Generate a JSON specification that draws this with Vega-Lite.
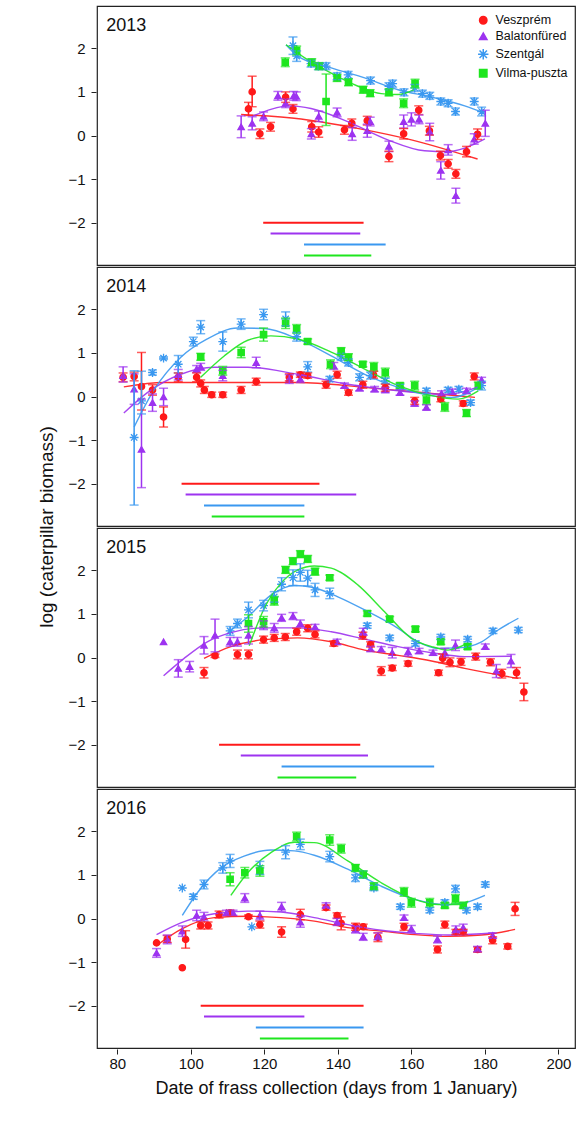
{
  "$schema": "https://vega.github.io/schema/vega-lite/v6.json",
  "config": {
    "font": "Liberation Sans",
    "view": {"stroke": "#222", "strokeWidth": 1.2},
    "axis": {"grid": false, "labelFontSize": 15, "labelColor": "#111", "tickColor": "#222", "domain": false, "tickSize": 5},
    "legend": {"labelFontSize": 12.5, "symbolSize": 55, "rowPadding": 3, "padding": 0, "labelColor": "#111", "labelOffset": 6, "labelLimit": 300}
  },
  "padding": {"left": 37, "top": 5, "right": 2, "bottom": 5},
  "data": {
    "values": [
      {"yr":2013,"k":"l","d":77,"v":2.5,"t":"2013"},
      {"yr":2014,"k":"l","d":77,"v":2.5,"t":"2014"},
      {"yr":2015,"k":"l","d":77,"v":2.5,"t":"2015"},
      {"yr":2016,"k":"l","d":77,"v":2.5,"t":"2016"},

      {"yr":2013,"k":"b","s":"Veszprém","d":119.7,"d2":147,"v":-2},
      {"yr":2013,"k":"b","s":"Balatonfüred","d":121.7,"d2":146.1,"v":-2.25},
      {"yr":2013,"k":"b","s":"Szentgál","d":130.8,"d2":153,"v":-2.5},
      {"yr":2013,"k":"b","s":"Vilma-puszta","d":130.8,"d2":149.1,"v":-2.75},
      {"yr":2014,"k":"b","s":"Veszprém","d":97.5,"d2":135,"v":-2},
      {"yr":2014,"k":"b","s":"Balatonfüred","d":98.6,"d2":145,"v":-2.25},
      {"yr":2014,"k":"b","s":"Szentgál","d":103.6,"d2":130.9,"v":-2.5},
      {"yr":2014,"k":"b","s":"Vilma-puszta","d":105.7,"d2":130.9,"v":-2.75},
      {"yr":2015,"k":"b","s":"Veszprém","d":107.7,"d2":146.1,"v":-2},
      {"yr":2015,"k":"b","s":"Balatonfüred","d":113.6,"d2":148.2,"v":-2.25},
      {"yr":2015,"k":"b","s":"Szentgál","d":124.7,"d2":166.2,"v":-2.5},
      {"yr":2015,"k":"b","s":"Vilma-puszta","d":123.6,"d2":145,"v":-2.75},
      {"yr":2016,"k":"b","s":"Veszprém","d":102.7,"d2":147,"v":-2},
      {"yr":2016,"k":"b","s":"Balatonfüred","d":103.6,"d2":130.9,"v":-2.25},
      {"yr":2016,"k":"b","s":"Szentgál","d":117.7,"d2":147,"v":-2.5},
      {"yr":2016,"k":"b","s":"Vilma-puszta","d":118.8,"d2":142.9,"v":-2.75},

      {"yr":2013,"k":"f","s":"Veszprém","d":113.7,"v":0.48},
      {"yr":2013,"k":"f","s":"Veszprém","d":130,"v":0.38},
      {"yr":2013,"k":"f","s":"Veszprém","d":145,"v":0.17},
      {"yr":2013,"k":"f","s":"Veszprém","d":160,"v":-0.1},
      {"yr":2013,"k":"f","s":"Veszprém","d":178,"v":-0.54},
      {"yr":2013,"k":"f","s":"Balatonfüred","d":116.7,"v":0.44},
      {"yr":2013,"k":"f","s":"Balatonfüred","d":127.3,"v":0.68},
      {"yr":2013,"k":"f","s":"Balatonfüred","d":132.7,"v":0.62},
      {"yr":2013,"k":"f","s":"Balatonfüred","d":142.7,"v":0.32},
      {"yr":2013,"k":"f","s":"Balatonfüred","d":153.6,"v":-0.1},
      {"yr":2013,"k":"f","s":"Balatonfüred","d":163.6,"v":-0.35},
      {"yr":2013,"k":"f","s":"Balatonfüred","d":170,"v":-0.37},
      {"yr":2013,"k":"f","s":"Balatonfüred","d":174.5,"v":-0.29},
      {"yr":2013,"k":"f","s":"Balatonfüred","d":180,"v":-0.08},
      {"yr":2013,"k":"f","s":"Szentgál","d":125.9,"v":2.08},
      {"yr":2013,"k":"f","s":"Szentgál","d":129.1,"v":1.82},
      {"yr":2013,"k":"f","s":"Szentgál","d":138.2,"v":1.55},
      {"yr":2013,"k":"f","s":"Szentgál","d":147.3,"v":1.32},
      {"yr":2013,"k":"f","s":"Szentgál","d":156.4,"v":1.05},
      {"yr":2013,"k":"f","s":"Szentgál","d":165.5,"v":0.88},
      {"yr":2013,"k":"f","s":"Szentgál","d":174.5,"v":0.68},
      {"yr":2013,"k":"f","s":"Szentgál","d":180,"v":0.51},
      {"yr":2013,"k":"f","s":"Vilma-puszta","d":125.9,"v":2.08},
      {"yr":2013,"k":"f","s":"Vilma-puszta","d":131,"v":1.78},
      {"yr":2013,"k":"f","s":"Vilma-puszta","d":138.2,"v":1.43},
      {"yr":2013,"k":"f","s":"Vilma-puszta","d":145.5,"v":1.13},
      {"yr":2013,"k":"f","s":"Vilma-puszta","d":151.8,"v":0.96},
      {"yr":2013,"k":"f","s":"Vilma-puszta","d":156.4,"v":0.94},
      {"yr":2013,"k":"f","s":"Vilma-puszta","d":160.9,"v":1.05},

      {"yr":2014,"k":"f","s":"Veszprém","d":81.8,"v":0.22},
      {"yr":2014,"k":"f","s":"Veszprém","d":92.7,"v":0.32},
      {"yr":2014,"k":"f","s":"Veszprém","d":110.9,"v":0.32},
      {"yr":2014,"k":"f","s":"Veszprém","d":129.1,"v":0.32},
      {"yr":2014,"k":"f","s":"Veszprém","d":147.3,"v":0.21},
      {"yr":2014,"k":"f","s":"Veszprém","d":165.5,"v":0.07},
      {"yr":2014,"k":"f","s":"Veszprém","d":177.3,"v":-0.02},
      {"yr":2014,"k":"f","s":"Balatonfüred","d":81.8,"v":-0.38},
      {"yr":2014,"k":"f","s":"Balatonfüred","d":88.2,"v":0.09},
      {"yr":2014,"k":"f","s":"Balatonfüred","d":97.3,"v":0.51},
      {"yr":2014,"k":"f","s":"Balatonfüred","d":106.4,"v":0.67},
      {"yr":2014,"k":"f","s":"Balatonfüred","d":115.5,"v":0.67},
      {"yr":2014,"k":"f","s":"Balatonfüred","d":129.1,"v":0.51},
      {"yr":2014,"k":"f","s":"Balatonfüred","d":142.7,"v":0.28},
      {"yr":2014,"k":"f","s":"Balatonfüred","d":156.4,"v":0.13},
      {"yr":2014,"k":"f","s":"Balatonfüred","d":170,"v":0.05},
      {"yr":2014,"k":"f","s":"Balatonfüred","d":178.2,"v":0.22},
      {"yr":2014,"k":"f","s":"Szentgál","d":84.6,"v":-0.7},
      {"yr":2014,"k":"f","s":"Szentgál","d":90,"v":0.15},
      {"yr":2014,"k":"f","s":"Szentgál","d":97.3,"v":0.9},
      {"yr":2014,"k":"f","s":"Szentgál","d":104.5,"v":1.32},
      {"yr":2014,"k":"f","s":"Szentgál","d":112.7,"v":1.57},
      {"yr":2014,"k":"f","s":"Szentgál","d":120,"v":1.56},
      {"yr":2014,"k":"f","s":"Szentgál","d":129.1,"v":1.32},
      {"yr":2014,"k":"f","s":"Szentgál","d":138.2,"v":0.93},
      {"yr":2014,"k":"f","s":"Szentgál","d":147.3,"v":0.51},
      {"yr":2014,"k":"f","s":"Szentgál","d":156.4,"v":0.21},
      {"yr":2014,"k":"f","s":"Szentgál","d":165.5,"v":0.02},
      {"yr":2014,"k":"f","s":"Szentgál","d":171,"v":-0.02},
      {"yr":2014,"k":"f","s":"Szentgál","d":178.2,"v":0.21},
      {"yr":2014,"k":"f","s":"Vilma-puszta","d":102.7,"v":0.44},
      {"yr":2014,"k":"f","s":"Vilma-puszta","d":109.1,"v":0.93},
      {"yr":2014,"k":"f","s":"Vilma-puszta","d":115.5,"v":1.29},
      {"yr":2014,"k":"f","s":"Vilma-puszta","d":121.8,"v":1.39},
      {"yr":2014,"k":"f","s":"Vilma-puszta","d":129.1,"v":1.32},
      {"yr":2014,"k":"f","s":"Vilma-puszta","d":138.2,"v":1.02},
      {"yr":2014,"k":"f","s":"Vilma-puszta","d":147.3,"v":0.63},
      {"yr":2014,"k":"f","s":"Vilma-puszta","d":156.4,"v":0.25},
      {"yr":2014,"k":"f","s":"Vilma-puszta","d":165.5,"v":0.02},
      {"yr":2014,"k":"f","s":"Vilma-puszta","d":172.7,"v":-0.06},
      {"yr":2014,"k":"f","s":"Vilma-puszta","d":178.2,"v":0.13},

      {"yr":2015,"k":"f","s":"Veszprém","d":103.6,"v":-0.02},
      {"yr":2015,"k":"f","s":"Veszprém","d":110.9,"v":0.25},
      {"yr":2015,"k":"f","s":"Veszprém","d":120,"v":0.41},
      {"yr":2015,"k":"f","s":"Veszprém","d":129.1,"v":0.45},
      {"yr":2015,"k":"f","s":"Veszprém","d":138.2,"v":0.36},
      {"yr":2015,"k":"f","s":"Veszprém","d":147.3,"v":0.17},
      {"yr":2015,"k":"f","s":"Veszprém","d":156.4,"v":0.05},
      {"yr":2015,"k":"f","s":"Veszprém","d":165.5,"v":-0.08},
      {"yr":2015,"k":"f","s":"Veszprém","d":174.5,"v":-0.25},
      {"yr":2015,"k":"f","s":"Veszprém","d":189.1,"v":-0.48},
      {"yr":2015,"k":"f","s":"Balatonfüred","d":92.6,"v":-0.42},
      {"yr":2015,"k":"f","s":"Balatonfüred","d":98.2,"v":-0.02},
      {"yr":2015,"k":"f","s":"Balatonfüred","d":104.5,"v":0.36},
      {"yr":2015,"k":"f","s":"Balatonfüred","d":110.9,"v":0.57},
      {"yr":2015,"k":"f","s":"Balatonfüred","d":120,"v":0.68},
      {"yr":2015,"k":"f","s":"Balatonfüred","d":129.1,"v":0.68},
      {"yr":2015,"k":"f","s":"Balatonfüred","d":138.2,"v":0.59},
      {"yr":2015,"k":"f","s":"Balatonfüred","d":147.3,"v":0.42},
      {"yr":2015,"k":"f","s":"Balatonfüred","d":156.4,"v":0.25},
      {"yr":2015,"k":"f","s":"Balatonfüred","d":165.5,"v":0.11},
      {"yr":2015,"k":"f","s":"Balatonfüred","d":174.5,"v":0.02},
      {"yr":2015,"k":"f","s":"Balatonfüred","d":187.3,"v":0.03},
      {"yr":2015,"k":"f","s":"Szentgál","d":111,"v":0.63},
      {"yr":2015,"k":"f","s":"Szentgál","d":115.5,"v":0.93},
      {"yr":2015,"k":"f","s":"Szentgál","d":121.8,"v":1.43},
      {"yr":2015,"k":"f","s":"Szentgál","d":128.2,"v":1.65},
      {"yr":2015,"k":"f","s":"Szentgál","d":133.6,"v":1.6},
      {"yr":2015,"k":"f","s":"Szentgál","d":140,"v":1.39},
      {"yr":2015,"k":"f","s":"Szentgál","d":147.3,"v":1.09},
      {"yr":2015,"k":"f","s":"Szentgál","d":156.4,"v":0.67},
      {"yr":2015,"k":"f","s":"Szentgál","d":161.8,"v":0.36},
      {"yr":2015,"k":"f","s":"Szentgál","d":167.3,"v":0.21},
      {"yr":2015,"k":"f","s":"Szentgál","d":172.7,"v":0.22},
      {"yr":2015,"k":"f","s":"Szentgál","d":179.1,"v":0.36},
      {"yr":2015,"k":"f","s":"Szentgál","d":183.6,"v":0.63},
      {"yr":2015,"k":"f","s":"Szentgál","d":189.1,"v":0.9},
      {"yr":2015,"k":"f","s":"Vilma-puszta","d":115.9,"v":0.27},
      {"yr":2015,"k":"f","s":"Vilma-puszta","d":120,"v":1.13},
      {"yr":2015,"k":"f","s":"Vilma-puszta","d":124.5,"v":1.7},
      {"yr":2015,"k":"f","s":"Vilma-puszta","d":129.1,"v":2.01},
      {"yr":2015,"k":"f","s":"Vilma-puszta","d":133.6,"v":2.1},
      {"yr":2015,"k":"f","s":"Vilma-puszta","d":138.2,"v":2.05},
      {"yr":2015,"k":"f","s":"Vilma-puszta","d":145.5,"v":1.66},
      {"yr":2015,"k":"f","s":"Vilma-puszta","d":152.7,"v":1.05},
      {"yr":2015,"k":"f","s":"Vilma-puszta","d":160,"v":0.44},
      {"yr":2015,"k":"f","s":"Vilma-puszta","d":165.5,"v":0.25},
      {"yr":2015,"k":"f","s":"Vilma-puszta","d":170,"v":0.17},
      {"yr":2015,"k":"f","s":"Vilma-puszta","d":175.5,"v":0.34},

      {"yr":2016,"k":"f","s":"Veszprém","d":90.7,"v":-0.62},
      {"yr":2016,"k":"f","s":"Veszprém","d":97.3,"v":-0.25},
      {"yr":2016,"k":"f","s":"Veszprém","d":106.4,"v":0.02},
      {"yr":2016,"k":"f","s":"Veszprém","d":115.5,"v":0.05},
      {"yr":2016,"k":"f","s":"Veszprém","d":124.5,"v":0.02},
      {"yr":2016,"k":"f","s":"Veszprém","d":133.6,"v":-0.06},
      {"yr":2016,"k":"f","s":"Veszprém","d":142.7,"v":-0.21},
      {"yr":2016,"k":"f","s":"Veszprém","d":151.8,"v":-0.29},
      {"yr":2016,"k":"f","s":"Veszprém","d":160.9,"v":-0.37},
      {"yr":2016,"k":"f","s":"Veszprém","d":170,"v":-0.41},
      {"yr":2016,"k":"f","s":"Veszprém","d":179.1,"v":-0.38},
      {"yr":2016,"k":"f","s":"Veszprém","d":188.2,"v":-0.25},
      {"yr":2016,"k":"f","s":"Balatonfüred","d":90.7,"v":-0.37},
      {"yr":2016,"k":"f","s":"Balatonfüred","d":97.3,"v":-0.1},
      {"yr":2016,"k":"f","s":"Balatonfüred","d":106.4,"v":0.11},
      {"yr":2016,"k":"f","s":"Balatonfüred","d":115.5,"v":0.17},
      {"yr":2016,"k":"f","s":"Balatonfüred","d":124.5,"v":0.15},
      {"yr":2016,"k":"f","s":"Balatonfüred","d":133.6,"v":0.02},
      {"yr":2016,"k":"f","s":"Balatonfüred","d":142.7,"v":-0.14},
      {"yr":2016,"k":"f","s":"Balatonfüred","d":151.8,"v":-0.27},
      {"yr":2016,"k":"f","s":"Balatonfüred","d":160.9,"v":-0.34},
      {"yr":2016,"k":"f","s":"Balatonfüred","d":170,"v":-0.38},
      {"yr":2016,"k":"f","s":"Balatonfüred","d":179.1,"v":-0.35},
      {"yr":2016,"k":"f","s":"Balatonfüred","d":182.7,"v":-0.33},
      {"yr":2016,"k":"f","s":"Szentgál","d":97.7,"v":0.07},
      {"yr":2016,"k":"f","s":"Szentgál","d":101.8,"v":0.59},
      {"yr":2016,"k":"f","s":"Szentgál","d":108.2,"v":1.16},
      {"yr":2016,"k":"f","s":"Szentgál","d":114.5,"v":1.43},
      {"yr":2016,"k":"f","s":"Szentgál","d":121.8,"v":1.57},
      {"yr":2016,"k":"f","s":"Szentgál","d":128.2,"v":1.55},
      {"yr":2016,"k":"f","s":"Szentgál","d":133.6,"v":1.45},
      {"yr":2016,"k":"f","s":"Szentgál","d":142.7,"v":1.13},
      {"yr":2016,"k":"f","s":"Szentgál","d":151.8,"v":0.74},
      {"yr":2016,"k":"f","s":"Szentgál","d":160.9,"v":0.44},
      {"yr":2016,"k":"f","s":"Szentgál","d":170,"v":0.32},
      {"yr":2016,"k":"f","s":"Szentgál","d":174.5,"v":0.36},
      {"yr":2016,"k":"f","s":"Szentgál","d":180,"v":0.53},
      {"yr":2016,"k":"f","s":"Vilma-puszta","d":110.9,"v":0.53},
      {"yr":2016,"k":"f","s":"Vilma-puszta","d":115.5,"v":1.05},
      {"yr":2016,"k":"f","s":"Vilma-puszta","d":121.8,"v":1.51},
      {"yr":2016,"k":"f","s":"Vilma-puszta","d":128.2,"v":1.75},
      {"yr":2016,"k":"f","s":"Vilma-puszta","d":133.6,"v":1.74},
      {"yr":2016,"k":"f","s":"Vilma-puszta","d":142.7,"v":1.32},
      {"yr":2016,"k":"f","s":"Vilma-puszta","d":151.8,"v":0.82},
      {"yr":2016,"k":"f","s":"Vilma-puszta","d":160.9,"v":0.44},
      {"yr":2016,"k":"f","s":"Vilma-puszta","d":167.3,"v":0.32},
      {"yr":2016,"k":"f","s":"Vilma-puszta","d":172.7,"v":0.32},
      {"yr":2016,"k":"f","s":"Vilma-puszta","d":175.5,"v":0.4},

      {"yr":2013,"k":"p","s":"Veszprém","d":115.7,"v":0.61,"e":0.15,"f":-0.15},
      {"yr":2013,"k":"p","s":"Veszprém","d":116.7,"v":1.0,"e":0.36,"f":-0.34},
      {"yr":2013,"k":"p","s":"Veszprém","d":118.8,"v":0.04,"e":0.11,"f":-0.11},
      {"yr":2013,"k":"p","s":"Veszprém","d":121.7,"v":0.2,"e":0.1,"f":-0.1},
      {"yr":2013,"k":"p","s":"Veszprém","d":125.8,"v":0.88,"e":0.12,"f":-0.12},
      {"yr":2013,"k":"p","s":"Veszprém","d":127.8,"v":0.61,"e":0.1,"f":-0.1},
      {"yr":2013,"k":"p","s":"Veszprém","d":132.9,"v":0.2,"e":0.12,"f":-0.12},
      {"yr":2013,"k":"p","s":"Veszprém","d":134.8,"v":0.08,"e":0.12,"f":-0.12},
      {"yr":2013,"k":"p","s":"Veszprém","d":141.8,"v":0.13,"e":0.1,"f":-0.1},
      {"yr":2013,"k":"p","s":"Veszprém","d":143.8,"v":0.28,"e":0.1,"f":-0.1},
      {"yr":2013,"k":"p","s":"Veszprém","d":148,"v":0.34,"e":0.1,"f":-0.1},
      {"yr":2013,"k":"p","s":"Veszprém","d":153.9,"v":-0.48,"e":0.12,"f":-0.12},
      {"yr":2013,"k":"p","s":"Veszprém","d":157.9,"v":0.04,"e":0.12,"f":-0.12},
      {"yr":2013,"k":"p","s":"Veszprém","d":162,"v":0.58,"e":0.1,"f":-0.1},
      {"yr":2013,"k":"p","s":"Veszprém","d":164.9,"v":0.11,"e":0.1,"f":-0.1},
      {"yr":2013,"k":"p","s":"Veszprém","d":167.9,"v":-0.46,"e":0.1,"f":-0.1},
      {"yr":2013,"k":"p","s":"Veszprém","d":170,"v":-0.65,"e":0.1,"f":-0.1},
      {"yr":2013,"k":"p","s":"Veszprém","d":172.1,"v":-0.88,"e":0.1,"f":-0.1},
      {"yr":2013,"k":"p","s":"Veszprém","d":175,"v":-0.37,"e":0.12,"f":-0.12},
      {"yr":2013,"k":"p","s":"Veszprém","d":178,"v":0.03,"e":0.12,"f":-0.12},
      {"yr":2013,"k":"p","s":"Balatonfüred","d":113.7,"v":0.2,"e":0.25,"f":-0.25},
      {"yr":2013,"k":"p","s":"Balatonfüred","d":116.7,"v":0.28,"e":0.15,"f":-0.15},
      {"yr":2013,"k":"p","s":"Balatonfüred","d":119.8,"v":0.44,"e":0.1,"f":-0.1},
      {"yr":2013,"k":"p","s":"Balatonfüred","d":123.7,"v":0.91,"e":0.1,"f":-0.1},
      {"yr":2013,"k":"p","s":"Balatonfüred","d":125.8,"v":0.74,"e":0.1,"f":-0.1},
      {"yr":2013,"k":"p","s":"Balatonfüred","d":128,"v":0.91,"e":0.1,"f":-0.1},
      {"yr":2013,"k":"p","s":"Balatonfüred","d":128.7,"v":0.9,"e":0.1,"f":-0.1},
      {"yr":2013,"k":"p","s":"Balatonfüred","d":132.8,"v":0.04,"e":0.12,"f":-0.12},
      {"yr":2013,"k":"p","s":"Balatonfüred","d":134.8,"v":0.44,"e":0.12,"f":-0.12},
      {"yr":2013,"k":"p","s":"Balatonfüred","d":139.8,"v":0.53,"e":0.1,"f":-0.1},
      {"yr":2013,"k":"p","s":"Balatonfüred","d":143.9,"v":0.04,"e":0.15,"f":-0.15},
      {"yr":2013,"k":"p","s":"Balatonfüred","d":148,"v":0.11,"e":0.15,"f":-0.15},
      {"yr":2013,"k":"p","s":"Balatonfüred","d":148.8,"v":0.32,"e":0.1,"f":-0.1},
      {"yr":2013,"k":"p","s":"Balatonfüred","d":153.9,"v":-0.25,"e":0.12,"f":-0.12},
      {"yr":2013,"k":"p","s":"Balatonfüred","d":157.9,"v":0.32,"e":0.15,"f":-0.15},
      {"yr":2013,"k":"p","s":"Balatonfüred","d":160,"v":0.37,"e":0.15,"f":-0.15},
      {"yr":2013,"k":"p","s":"Balatonfüred","d":162.1,"v":0.37,"e":0.1,"f":-0.1},
      {"yr":2013,"k":"p","s":"Balatonfüred","d":165,"v":0.08,"e":0.2,"f":-0.2},
      {"yr":2013,"k":"p","s":"Balatonfüred","d":168,"v":-0.8,"e":0.2,"f":-0.2},
      {"yr":2013,"k":"p","s":"Balatonfüred","d":170,"v":-0.33,"e":0.12,"f":-0.12},
      {"yr":2013,"k":"p","s":"Balatonfüred","d":172.1,"v":-1.38,"e":0.17,"f":-0.17},
      {"yr":2013,"k":"p","s":"Balatonfüred","d":177.1,"v":-0.08,"e":0.12,"f":-0.12},
      {"yr":2013,"k":"p","s":"Balatonfüred","d":180.1,"v":0.28,"e":0.3,"f":-0.3},
      {"yr":2013,"k":"p","s":"Szentgál","d":127.8,"v":2.06,"e":0.2,"f":-0.2},
      {"yr":2013,"k":"p","s":"Szentgál","d":128.8,"v":1.82,"e":0.12,"f":-0.12},
      {"yr":2013,"k":"p","s":"Szentgál","d":132.7,"v":1.65,"e":0.08,"f":-0.08},
      {"yr":2013,"k":"p","s":"Szentgál","d":134.7,"v":1.59,"e":0.08,"f":-0.08},
      {"yr":2013,"k":"p","s":"Szentgál","d":136.8,"v":1.59,"e":0.08,"f":-0.08},
      {"yr":2013,"k":"p","s":"Szentgál","d":139.8,"v":1.36,"e":0.08,"f":-0.08},
      {"yr":2013,"k":"p","s":"Szentgál","d":142.8,"v":1.39,"e":0.08,"f":-0.08},
      {"yr":2013,"k":"p","s":"Szentgál","d":148.9,"v":1.26,"e":0.08,"f":-0.08},
      {"yr":2013,"k":"p","s":"Szentgál","d":153.9,"v":1.13,"e":0.08,"f":-0.08},
      {"yr":2013,"k":"p","s":"Szentgál","d":154.9,"v":1.19,"e":0.08,"f":-0.08},
      {"yr":2013,"k":"p","s":"Szentgál","d":158,"v":0.99,"e":0.08,"f":-0.08},
      {"yr":2013,"k":"p","s":"Szentgál","d":160.9,"v":1.09,"e":0.08,"f":-0.08},
      {"yr":2013,"k":"p","s":"Szentgál","d":163,"v":0.96,"e":0.08,"f":-0.08},
      {"yr":2013,"k":"p","s":"Szentgál","d":165,"v":0.91,"e":0.08,"f":-0.08},
      {"yr":2013,"k":"p","s":"Szentgál","d":168,"v":0.78,"e":0.08,"f":-0.08},
      {"yr":2013,"k":"p","s":"Szentgál","d":170,"v":0.74,"e":0.08,"f":-0.08},
      {"yr":2013,"k":"p","s":"Szentgál","d":172,"v":0.55,"e":0.08,"f":-0.08},
      {"yr":2013,"k":"p","s":"Szentgál","d":177.1,"v":0.78,"e":0.08,"f":-0.08},
      {"yr":2013,"k":"p","s":"Szentgál","d":179.1,"v":0.55,"e":0.1,"f":-0.1},
      {"yr":2013,"k":"p","s":"Vilma-puszta","d":125.7,"v":1.68,"e":0.1,"f":-0.1},
      {"yr":2013,"k":"p","s":"Vilma-puszta","d":128.8,"v":1.95,"e":0.1,"f":-0.1},
      {"yr":2013,"k":"p","s":"Vilma-puszta","d":132.9,"v":1.68,"e":0.08,"f":-0.08},
      {"yr":2013,"k":"p","s":"Vilma-puszta","d":134.9,"v":1.59,"e":0.08,"f":-0.08},
      {"yr":2013,"k":"p","s":"Vilma-puszta","d":136.8,"v":0.78,"e":0.63,"f":-0.55},
      {"yr":2013,"k":"p","s":"Vilma-puszta","d":139.8,"v":1.32,"e":0.08,"f":-0.08},
      {"yr":2013,"k":"p","s":"Vilma-puszta","d":142.9,"v":1.22,"e":0.08,"f":-0.08},
      {"yr":2013,"k":"p","s":"Vilma-puszta","d":146.9,"v":1.05,"e":0.08,"f":-0.08},
      {"yr":2013,"k":"p","s":"Vilma-puszta","d":148.8,"v":0.97,"e":0.08,"f":-0.08},
      {"yr":2013,"k":"p","s":"Vilma-puszta","d":153.9,"v":0.99,"e":0.08,"f":-0.08},
      {"yr":2013,"k":"p","s":"Vilma-puszta","d":157.9,"v":0.74,"e":0.1,"f":-0.1},
      {"yr":2013,"k":"p","s":"Vilma-puszta","d":161,"v":1.19,"e":0.1,"f":-0.1},

      {"yr":2014,"k":"p","s":"Veszprém","d":81.6,"v":0.44,"e":0.1,"f":-0.1},
      {"yr":2014,"k":"p","s":"Veszprém","d":84.6,"v":0.46,"e":0.1,"f":-0.1},
      {"yr":2014,"k":"p","s":"Veszprém","d":86.6,"v":0.23,"e":0.78,"f":-0.54},
      {"yr":2014,"k":"p","s":"Veszprém","d":89.6,"v":0.15,"e":0.12,"f":-0.12},
      {"yr":2014,"k":"p","s":"Veszprém","d":92.6,"v":-0.47,"e":0.23,"f":-0.23},
      {"yr":2014,"k":"p","s":"Veszprém","d":96.6,"v":0.44,"e":0.1,"f":-0.1},
      {"yr":2014,"k":"p","s":"Veszprém","d":101.6,"v":0.44,"e":0.1,"f":-0.1},
      {"yr":2014,"k":"p","s":"Veszprém","d":102.7,"v":0.3,"e":0.08,"f":-0.08},
      {"yr":2014,"k":"p","s":"Veszprém","d":103.7,"v":0.15,"e":0.08,"f":-0.08},
      {"yr":2014,"k":"p","s":"Veszprém","d":105.7,"v":0.04,"e":0.06,"f":-0.06},
      {"yr":2014,"k":"p","s":"Veszprém","d":108.7,"v":0.04,"e":0.06,"f":-0.06},
      {"yr":2014,"k":"p","s":"Veszprém","d":113.7,"v":0.15,"e":0.08,"f":-0.08},
      {"yr":2014,"k":"p","s":"Veszprém","d":117.8,"v":0.34,"e":0.08,"f":-0.08},
      {"yr":2014,"k":"p","s":"Veszprém","d":126.8,"v":0.44,"e":0.08,"f":-0.08},
      {"yr":2014,"k":"p","s":"Veszprém","d":129.8,"v":0.5,"e":0.06,"f":-0.06},
      {"yr":2014,"k":"p","s":"Veszprém","d":131.8,"v":0.48,"e":0.06,"f":-0.06},
      {"yr":2014,"k":"p","s":"Veszprém","d":136.8,"v":0.27,"e":0.08,"f":-0.08},
      {"yr":2014,"k":"p","s":"Veszprém","d":139.8,"v":0.5,"e":0.08,"f":-0.08},
      {"yr":2014,"k":"p","s":"Veszprém","d":142.9,"v":0.09,"e":0.06,"f":-0.06},
      {"yr":2014,"k":"p","s":"Veszprém","d":146.8,"v":0.27,"e":0.08,"f":-0.08},
      {"yr":2014,"k":"p","s":"Veszprém","d":149.7,"v":0.5,"e":0.08,"f":-0.08},
      {"yr":2014,"k":"p","s":"Veszprém","d":152.9,"v":0.2,"e":0.08,"f":-0.08},
      {"yr":2014,"k":"p","s":"Veszprém","d":160.9,"v":-0.1,"e":0.08,"f":-0.08},
      {"yr":2014,"k":"p","s":"Veszprém","d":168,"v":-0.06,"e":0.06,"f":-0.06},
      {"yr":2014,"k":"p","s":"Veszprém","d":174.1,"v":-0.16,"e":0.06,"f":-0.06},
      {"yr":2014,"k":"p","s":"Veszprém","d":177.1,"v":0.46,"e":0.08,"f":-0.08},
      {"yr":2014,"k":"p","s":"Balatonfüred","d":81.6,"v":0.48,"e":0.2,"f":-0.15},
      {"yr":2014,"k":"p","s":"Balatonfüred","d":84.6,"v":0.17,"e":0.35,"f":-0.35},
      {"yr":2014,"k":"p","s":"Balatonfüred","d":86.6,"v":-1.21,"e":1.15,"f":-0.88},
      {"yr":2014,"k":"p","s":"Balatonfüred","d":89.6,"v":-0.14,"e":0.2,"f":-0.2},
      {"yr":2014,"k":"p","s":"Balatonfüred","d":92.6,"v":-0.01,"e":0.2,"f":-0.2},
      {"yr":2014,"k":"p","s":"Balatonfüred","d":96.6,"v":0.5,"e":0.12,"f":-0.12},
      {"yr":2014,"k":"p","s":"Balatonfüred","d":101.6,"v":0.63,"e":0.08,"f":-0.08},
      {"yr":2014,"k":"p","s":"Balatonfüred","d":102.7,"v":0.68,"e":0.08,"f":-0.08},
      {"yr":2014,"k":"p","s":"Balatonfüred","d":108.7,"v":0.48,"e":0.12,"f":-0.12},
      {"yr":2014,"k":"p","s":"Balatonfüred","d":117.8,"v":0.78,"e":0.12,"f":-0.12},
      {"yr":2014,"k":"p","s":"Balatonfüred","d":126.8,"v":0.4,"e":0.1,"f":-0.1},
      {"yr":2014,"k":"p","s":"Balatonfüred","d":129.8,"v":0.4,"e":0.08,"f":-0.08},
      {"yr":2014,"k":"p","s":"Balatonfüred","d":138.9,"v":0.7,"e":0.08,"f":-0.08},
      {"yr":2014,"k":"p","s":"Balatonfüred","d":141.8,"v":0.25,"e":0.06,"f":-0.06},
      {"yr":2014,"k":"p","s":"Balatonfüred","d":145.9,"v":0.19,"e":0.06,"f":-0.06},
      {"yr":2014,"k":"p","s":"Balatonfüred","d":150,"v":0.17,"e":0.06,"f":-0.06},
      {"yr":2014,"k":"p","s":"Balatonfüred","d":152.9,"v":0.15,"e":0.06,"f":-0.06},
      {"yr":2014,"k":"p","s":"Balatonfüred","d":156.9,"v":0.09,"e":0.06,"f":-0.06},
      {"yr":2014,"k":"p","s":"Balatonfüred","d":160.9,"v":-0.16,"e":0.06,"f":-0.06},
      {"yr":2014,"k":"p","s":"Balatonfüred","d":164.1,"v":-0.25,"e":0.06,"f":-0.06},
      {"yr":2014,"k":"p","s":"Balatonfüred","d":168.2,"v":0.07,"e":0.06,"f":-0.06},
      {"yr":2014,"k":"p","s":"Balatonfüred","d":171.1,"v":0.11,"e":0.06,"f":-0.06},
      {"yr":2014,"k":"p","s":"Balatonfüred","d":175,"v":0.13,"e":0.06,"f":-0.06},
      {"yr":2014,"k":"p","s":"Balatonfüred","d":179.1,"v":0.38,"e":0.06,"f":-0.06},
      {"yr":2014,"k":"p","s":"Szentgál","d":84.6,"v":-0.94,"e":1.53,"f":-1.55},
      {"yr":2014,"k":"p","s":"Szentgál","d":86.6,"v":-0.1,"e":0.68,"f":-0.3},
      {"yr":2014,"k":"p","s":"Szentgál","d":89.6,"v":0.55,"e":0.06,"f":-0.06},
      {"yr":2014,"k":"p","s":"Szentgál","d":92.6,"v":0.88,"e":0.03,"f":-0.03},
      {"yr":2014,"k":"p","s":"Szentgál","d":96.6,"v":0.74,"e":0.2,"f":-0.2},
      {"yr":2014,"k":"p","s":"Szentgál","d":100.7,"v":1.26,"e":0.1,"f":-0.1},
      {"yr":2014,"k":"p","s":"Szentgál","d":102.7,"v":1.59,"e":0.15,"f":-0.15},
      {"yr":2014,"k":"p","s":"Szentgál","d":108.7,"v":1.26,"e":0.22,"f":-0.22},
      {"yr":2014,"k":"p","s":"Szentgál","d":113.7,"v":1.66,"e":0.12,"f":-0.12},
      {"yr":2014,"k":"p","s":"Szentgál","d":119.8,"v":1.88,"e":0.12,"f":-0.12},
      {"yr":2014,"k":"p","s":"Szentgál","d":125.8,"v":1.78,"e":0.16,"f":-0.16},
      {"yr":2014,"k":"p","s":"Szentgál","d":128.8,"v":1.37,"e":0.1,"f":-0.1},
      {"yr":2014,"k":"p","s":"Szentgál","d":131.8,"v":0.68,"e":0.12,"f":-0.12},
      {"yr":2014,"k":"p","s":"Szentgál","d":137.8,"v":0.4,"e":0.06,"f":-0.06},
      {"yr":2014,"k":"p","s":"Szentgál","d":140.9,"v":0.91,"e":0.08,"f":-0.08},
      {"yr":2014,"k":"p","s":"Szentgál","d":142.9,"v":0.78,"e":0.08,"f":-0.08},
      {"yr":2014,"k":"p","s":"Szentgál","d":145.9,"v":0.44,"e":0.08,"f":-0.08},
      {"yr":2014,"k":"p","s":"Szentgál","d":148.9,"v":0.48,"e":0.08,"f":-0.08},
      {"yr":2014,"k":"p","s":"Szentgál","d":152.9,"v":0.36,"e":0.06,"f":-0.06},
      {"yr":2014,"k":"p","s":"Szentgál","d":156.9,"v":0.22,"e":0.06,"f":-0.06},
      {"yr":2014,"k":"p","s":"Szentgál","d":164.1,"v":0.13,"e":0.06,"f":-0.06},
      {"yr":2014,"k":"p","s":"Szentgál","d":170,"v":0.15,"e":0.06,"f":-0.06},
      {"yr":2014,"k":"p","s":"Szentgál","d":172.9,"v":0.17,"e":0.06,"f":-0.06},
      {"yr":2014,"k":"p","s":"Szentgál","d":176.1,"v":-0.14,"e":0.06,"f":-0.06},
      {"yr":2014,"k":"p","s":"Szentgál","d":179.1,"v":0.25,"e":0.1,"f":-0.1},
      {"yr":2014,"k":"p","s":"Vilma-puszta","d":102.7,"v":0.91,"e":0.08,"f":-0.08},
      {"yr":2014,"k":"p","s":"Vilma-puszta","d":108.7,"v":0.59,"e":0.1,"f":-0.1},
      {"yr":2014,"k":"p","s":"Vilma-puszta","d":113.7,"v":1.01,"e":0.12,"f":-0.12},
      {"yr":2014,"k":"p","s":"Vilma-puszta","d":119.8,"v":1.42,"e":0.15,"f":-0.15},
      {"yr":2014,"k":"p","s":"Vilma-puszta","d":125.8,"v":1.68,"e":0.12,"f":-0.12},
      {"yr":2014,"k":"p","s":"Vilma-puszta","d":128.8,"v":1.55,"e":0.1,"f":-0.1},
      {"yr":2014,"k":"p","s":"Vilma-puszta","d":131.8,"v":1.26,"e":0.06,"f":-0.06},
      {"yr":2014,"k":"p","s":"Vilma-puszta","d":138,"v":0.74,"e":0.1,"f":-0.1},
      {"yr":2014,"k":"p","s":"Vilma-puszta","d":140.9,"v":1.04,"e":0.08,"f":-0.08},
      {"yr":2014,"k":"p","s":"Vilma-puszta","d":142.9,"v":0.9,"e":0.08,"f":-0.08},
      {"yr":2014,"k":"p","s":"Vilma-puszta","d":146.8,"v":0.74,"e":0.06,"f":-0.06},
      {"yr":2014,"k":"p","s":"Vilma-puszta","d":149.8,"v":0.68,"e":0.1,"f":-0.1},
      {"yr":2014,"k":"p","s":"Vilma-puszta","d":152.9,"v":0.55,"e":0.1,"f":-0.1},
      {"yr":2014,"k":"p","s":"Vilma-puszta","d":156.9,"v":0.25,"e":0.06,"f":-0.06},
      {"yr":2014,"k":"p","s":"Vilma-puszta","d":160.9,"v":0.25,"e":0.1,"f":-0.1},
      {"yr":2014,"k":"p","s":"Vilma-puszta","d":164.1,"v":-0.08,"e":0.1,"f":-0.1},
      {"yr":2014,"k":"p","s":"Vilma-puszta","d":169.1,"v":-0.24,"e":0.1,"f":-0.1},
      {"yr":2014,"k":"p","s":"Vilma-puszta","d":175,"v":-0.38,"e":0.08,"f":-0.08},
      {"yr":2014,"k":"p","s":"Vilma-puszta","d":178.2,"v":0.25,"e":0.08,"f":-0.08},

      {"yr":2015,"k":"p","s":"Veszprém","d":103.6,"v":-0.35,"e":0.12,"f":-0.12},
      {"yr":2015,"k":"p","s":"Veszprém","d":106.6,"v":0.04,"e":0.04,"f":-0.04},
      {"yr":2015,"k":"p","s":"Veszprém","d":112.7,"v":0.07,"e":0.1,"f":-0.1},
      {"yr":2015,"k":"p","s":"Veszprém","d":115.7,"v":0.07,"e":0.1,"f":-0.1},
      {"yr":2015,"k":"p","s":"Veszprém","d":119.8,"v":0.41,"e":0.08,"f":-0.08},
      {"yr":2015,"k":"p","s":"Veszprém","d":122.7,"v":0.45,"e":0.08,"f":-0.08},
      {"yr":2015,"k":"p","s":"Veszprém","d":125.7,"v":0.47,"e":0.08,"f":-0.08},
      {"yr":2015,"k":"p","s":"Veszprém","d":128.8,"v":0.59,"e":0.08,"f":-0.08},
      {"yr":2015,"k":"p","s":"Veszprém","d":131.8,"v":0.67,"e":0.08,"f":-0.08},
      {"yr":2015,"k":"p","s":"Veszprém","d":133.8,"v":0.53,"e":0.08,"f":-0.08},
      {"yr":2015,"k":"p","s":"Veszprém","d":138.9,"v":0.32,"e":0.06,"f":-0.06},
      {"yr":2015,"k":"p","s":"Veszprém","d":146.8,"v":0.5,"e":0.08,"f":-0.08},
      {"yr":2015,"k":"p","s":"Veszprém","d":148.9,"v":0.3,"e":0.06,"f":-0.06},
      {"yr":2015,"k":"p","s":"Veszprém","d":151.8,"v":-0.31,"e":0.1,"f":-0.1},
      {"yr":2015,"k":"p","s":"Veszprém","d":154.8,"v":-0.24,"e":0.06,"f":-0.06},
      {"yr":2015,"k":"p","s":"Veszprém","d":159.1,"v":-0.14,"e":0.06,"f":-0.06},
      {"yr":2015,"k":"p","s":"Veszprém","d":167.4,"v":-0.35,"e":0.06,"f":-0.06},
      {"yr":2015,"k":"p","s":"Veszprém","d":168.5,"v":-0.02,"e":0.1,"f":-0.1},
      {"yr":2015,"k":"p","s":"Veszprém","d":170.5,"v":-0.11,"e":0.1,"f":-0.1},
      {"yr":2015,"k":"p","s":"Veszprém","d":173.5,"v":-0.1,"e":0.08,"f":-0.08},
      {"yr":2015,"k":"p","s":"Veszprém","d":177.5,"v":0.02,"e":0.08,"f":-0.08},
      {"yr":2015,"k":"p","s":"Veszprém","d":181.5,"v":-0.11,"e":0.08,"f":-0.08},
      {"yr":2015,"k":"p","s":"Veszprém","d":184.6,"v":-0.37,"e":0.1,"f":-0.1},
      {"yr":2015,"k":"p","s":"Veszprém","d":188.6,"v":-0.35,"e":0.12,"f":-0.12},
      {"yr":2015,"k":"p","s":"Veszprém","d":190.6,"v":-0.79,"e":0.2,"f":-0.2},
      {"yr":2015,"k":"p","s":"Balatonfüred","d":92.6,"v":0.36,"e":0,"f":0},
      {"yr":2015,"k":"p","s":"Balatonfüred","d":96.6,"v":-0.25,"e":0.2,"f":-0.2},
      {"yr":2015,"k":"p","s":"Balatonfüred","d":99.7,"v":-0.21,"e":0.12,"f":-0.12},
      {"yr":2015,"k":"p","s":"Balatonfüred","d":103.6,"v":0.28,"e":0.2,"f":-0.2},
      {"yr":2015,"k":"p","s":"Balatonfüred","d":106.6,"v":0.51,"e":0.37,"f":-0.38},
      {"yr":2015,"k":"p","s":"Balatonfüred","d":110.7,"v":0.36,"e":0.1,"f":-0.1},
      {"yr":2015,"k":"p","s":"Balatonfüred","d":112.7,"v":0.36,"e":0.1,"f":-0.1},
      {"yr":2015,"k":"p","s":"Balatonfüred","d":115.7,"v":0.51,"e":0.2,"f":-0.2},
      {"yr":2015,"k":"p","s":"Balatonfüred","d":119.8,"v":0.74,"e":0.1,"f":-0.1},
      {"yr":2015,"k":"p","s":"Balatonfüred","d":122.7,"v":0.68,"e":0.1,"f":-0.1},
      {"yr":2015,"k":"p","s":"Balatonfüred","d":124.7,"v":0.91,"e":0.08,"f":-0.08},
      {"yr":2015,"k":"p","s":"Balatonfüred","d":127.8,"v":0.95,"e":0.08,"f":-0.08},
      {"yr":2015,"k":"p","s":"Balatonfüred","d":129.8,"v":0.78,"e":0.08,"f":-0.08},
      {"yr":2015,"k":"p","s":"Balatonfüred","d":133.8,"v":0.7,"e":0.06,"f":-0.06},
      {"yr":2015,"k":"p","s":"Balatonfüred","d":139.8,"v":0.36,"e":0.06,"f":-0.06},
      {"yr":2015,"k":"p","s":"Balatonfüred","d":146.9,"v":0.59,"e":0.08,"f":-0.08},
      {"yr":2015,"k":"p","s":"Balatonfüred","d":148.9,"v":0.2,"e":0.06,"f":-0.06},
      {"yr":2015,"k":"p","s":"Balatonfüred","d":151.8,"v":0.19,"e":0.06,"f":-0.06},
      {"yr":2015,"k":"p","s":"Balatonfüred","d":154.8,"v":0.11,"e":0.12,"f":-0.12},
      {"yr":2015,"k":"p","s":"Balatonfüred","d":159.1,"v":0.13,"e":0.1,"f":-0.1},
      {"yr":2015,"k":"p","s":"Balatonfüred","d":162.1,"v":0.15,"e":0.06,"f":-0.06},
      {"yr":2015,"k":"p","s":"Balatonfüred","d":165.9,"v":0.11,"e":0.06,"f":-0.06},
      {"yr":2015,"k":"p","s":"Balatonfüred","d":169.1,"v":0.11,"e":0.1,"f":-0.1},
      {"yr":2015,"k":"p","s":"Balatonfüred","d":172,"v":0.28,"e":0.12,"f":-0.12},
      {"yr":2015,"k":"p","s":"Balatonfüred","d":180.1,"v":0.25,"e":0.06,"f":-0.06},
      {"yr":2015,"k":"p","s":"Balatonfüred","d":183.1,"v":-0.31,"e":0.15,"f":-0.15},
      {"yr":2015,"k":"p","s":"Balatonfüred","d":187.1,"v":-0.08,"e":0.15,"f":-0.15},
      {"yr":2015,"k":"p","s":"Szentgál","d":110.7,"v":0.61,"e":0.1,"f":-0.1},
      {"yr":2015,"k":"p","s":"Szentgál","d":112.7,"v":0.78,"e":0.1,"f":-0.1},
      {"yr":2015,"k":"p","s":"Szentgál","d":115.7,"v":1.09,"e":0.18,"f":-0.18},
      {"yr":2015,"k":"p","s":"Szentgál","d":119.8,"v":1.19,"e":0.12,"f":-0.12},
      {"yr":2015,"k":"p","s":"Szentgál","d":122.7,"v":1.39,"e":0.12,"f":-0.12},
      {"yr":2015,"k":"p","s":"Szentgál","d":124.7,"v":1.68,"e":0.15,"f":-0.15},
      {"yr":2015,"k":"p","s":"Szentgál","d":127.8,"v":1.83,"e":0.18,"f":-0.18},
      {"yr":2015,"k":"p","s":"Szentgál","d":129.8,"v":1.95,"e":0.2,"f":-0.2},
      {"yr":2015,"k":"p","s":"Szentgál","d":131.8,"v":1.82,"e":0.18,"f":-0.18},
      {"yr":2015,"k":"p","s":"Szentgál","d":133.8,"v":1.55,"e":0.15,"f":-0.15},
      {"yr":2015,"k":"p","s":"Szentgál","d":137.8,"v":1.47,"e":0.12,"f":-0.12},
      {"yr":2015,"k":"p","s":"Szentgál","d":148,"v":0.73,"e":0.06,"f":-0.06},
      {"yr":2015,"k":"p","s":"Szentgál","d":154.1,"v":0.45,"e":0.06,"f":-0.06},
      {"yr":2015,"k":"p","s":"Szentgál","d":161.1,"v":0.32,"e":0.06,"f":-0.06},
      {"yr":2015,"k":"p","s":"Szentgál","d":168,"v":0.47,"e":0.06,"f":-0.06},
      {"yr":2015,"k":"p","s":"Szentgál","d":175.3,"v":0.42,"e":0.06,"f":-0.06},
      {"yr":2015,"k":"p","s":"Szentgál","d":182.2,"v":0.61,"e":0.06,"f":-0.06},
      {"yr":2015,"k":"p","s":"Szentgál","d":189.1,"v":0.63,"e":0.06,"f":-0.06},
      {"yr":2015,"k":"p","s":"Vilma-puszta","d":115.7,"v":0.78,"e":0.2,"f":-0.2},
      {"yr":2015,"k":"p","s":"Vilma-puszta","d":119.8,"v":0.82,"e":0.12,"f":-0.12},
      {"yr":2015,"k":"p","s":"Vilma-puszta","d":122.7,"v":1.3,"e":0.1,"f":-0.1},
      {"yr":2015,"k":"p","s":"Vilma-puszta","d":125.8,"v":2.01,"e":0.08,"f":-0.08},
      {"yr":2015,"k":"p","s":"Vilma-puszta","d":127.8,"v":2.21,"e":0.08,"f":-0.08},
      {"yr":2015,"k":"p","s":"Vilma-puszta","d":129.8,"v":2.37,"e":0.08,"f":-0.08},
      {"yr":2015,"k":"p","s":"Vilma-puszta","d":131.8,"v":2.26,"e":0.08,"f":-0.08},
      {"yr":2015,"k":"p","s":"Vilma-puszta","d":133.8,"v":1.97,"e":0.08,"f":-0.08},
      {"yr":2015,"k":"p","s":"Vilma-puszta","d":137.8,"v":1.83,"e":0.06,"f":-0.06},
      {"yr":2015,"k":"p","s":"Vilma-puszta","d":148,"v":1.01,"e":0.06,"f":-0.06},
      {"yr":2015,"k":"p","s":"Vilma-puszta","d":154.1,"v":0.88,"e":0.06,"f":-0.06},
      {"yr":2015,"k":"p","s":"Vilma-puszta","d":161.1,"v":0.65,"e":0.06,"f":-0.06},
      {"yr":2015,"k":"p","s":"Vilma-puszta","d":168,"v":0.36,"e":0.06,"f":-0.06},
      {"yr":2015,"k":"p","s":"Vilma-puszta","d":175.3,"v":0.25,"e":0.06,"f":-0.06},

      {"yr":2016,"k":"p","s":"Veszprém","d":90.7,"v":-0.56,"e":0,"f":0},
      {"yr":2016,"k":"p","s":"Veszprém","d":93.6,"v":-0.47,"e":0.08,"f":-0.08},
      {"yr":2016,"k":"p","s":"Veszprém","d":97.7,"v":-1.13,"e":0,"f":0},
      {"yr":2016,"k":"p","s":"Veszprém","d":98.6,"v":-0.48,"e":0.2,"f":-0.2},
      {"yr":2016,"k":"p","s":"Veszprém","d":102.7,"v":-0.16,"e":0.08,"f":-0.08},
      {"yr":2016,"k":"p","s":"Veszprém","d":104.7,"v":-0.16,"e":0.08,"f":-0.08},
      {"yr":2016,"k":"p","s":"Veszprém","d":107.7,"v":0.09,"e":0.08,"f":-0.08},
      {"yr":2016,"k":"p","s":"Veszprém","d":110.7,"v":0.13,"e":0.06,"f":-0.06},
      {"yr":2016,"k":"p","s":"Veszprém","d":115.7,"v":0.04,"e":0.04,"f":-0.04},
      {"yr":2016,"k":"p","s":"Veszprém","d":118.8,"v":-0.14,"e":0.08,"f":-0.08},
      {"yr":2016,"k":"p","s":"Veszprém","d":124.7,"v":-0.31,"e":0.12,"f":-0.12},
      {"yr":2016,"k":"p","s":"Veszprém","d":129.8,"v":0.09,"e":0.12,"f":-0.12},
      {"yr":2016,"k":"p","s":"Veszprém","d":136.8,"v":0.25,"e":0.06,"f":-0.06},
      {"yr":2016,"k":"p","s":"Veszprém","d":139.8,"v":0.07,"e":0.06,"f":-0.06},
      {"yr":2016,"k":"p","s":"Veszprém","d":140.9,"v":-0.11,"e":0.15,"f":-0.15},
      {"yr":2016,"k":"p","s":"Veszprém","d":144.8,"v":-0.19,"e":0.08,"f":-0.08},
      {"yr":2016,"k":"p","s":"Veszprém","d":146.9,"v":-0.19,"e":0.06,"f":-0.06},
      {"yr":2016,"k":"p","s":"Veszprém","d":150.9,"v":-0.43,"e":0.1,"f":-0.1},
      {"yr":2016,"k":"p","s":"Veszprém","d":158,"v":-0.19,"e":0.08,"f":-0.08},
      {"yr":2016,"k":"p","s":"Veszprém","d":167.1,"v":-0.71,"e":0.08,"f":-0.08},
      {"yr":2016,"k":"p","s":"Veszprém","d":169.1,"v":-0.14,"e":0.08,"f":-0.08},
      {"yr":2016,"k":"p","s":"Veszprém","d":172.1,"v":-0.31,"e":0.06,"f":-0.06},
      {"yr":2016,"k":"p","s":"Veszprém","d":174.1,"v":-0.31,"e":0.06,"f":-0.06},
      {"yr":2016,"k":"p","s":"Veszprém","d":178,"v":-0.71,"e":0.06,"f":-0.06},
      {"yr":2016,"k":"p","s":"Veszprém","d":182.1,"v":-0.5,"e":0.08,"f":-0.08},
      {"yr":2016,"k":"p","s":"Veszprém","d":186.2,"v":-0.64,"e":0.06,"f":-0.06},
      {"yr":2016,"k":"p","s":"Veszprém","d":188.2,"v":0.22,"e":0.15,"f":-0.15},
      {"yr":2016,"k":"p","s":"Balatonfüred","d":90.7,"v":-0.79,"e":0.1,"f":-0.1},
      {"yr":2016,"k":"p","s":"Balatonfüred","d":93.6,"v":-0.48,"e":0.1,"f":-0.1},
      {"yr":2016,"k":"p","s":"Balatonfüred","d":97.7,"v":-0.29,"e":0.12,"f":-0.12},
      {"yr":2016,"k":"p","s":"Balatonfüred","d":101.6,"v":0.07,"e":0.12,"f":-0.12},
      {"yr":2016,"k":"p","s":"Balatonfüred","d":103.6,"v":0.04,"e":0.1,"f":-0.1},
      {"yr":2016,"k":"p","s":"Balatonfüred","d":109.7,"v":0.13,"e":0.06,"f":-0.06},
      {"yr":2016,"k":"p","s":"Balatonfüred","d":111.5,"v":0.13,"e":0.06,"f":-0.06},
      {"yr":2016,"k":"p","s":"Balatonfüred","d":114.7,"v":0.47,"e":0.1,"f":-0.1},
      {"yr":2016,"k":"p","s":"Balatonfüred","d":118.8,"v":0.07,"e":0.1,"f":-0.1},
      {"yr":2016,"k":"p","s":"Balatonfüred","d":124.7,"v":0.27,"e":0.1,"f":-0.1},
      {"yr":2016,"k":"p","s":"Balatonfüred","d":129.8,"v":-0.08,"e":0.12,"f":-0.12},
      {"yr":2016,"k":"p","s":"Balatonfüred","d":136.8,"v":0.3,"e":0.06,"f":-0.06},
      {"yr":2016,"k":"p","s":"Balatonfüred","d":139.8,"v":-0.08,"e":0.08,"f":-0.08},
      {"yr":2016,"k":"p","s":"Balatonfüred","d":144.8,"v":-0.25,"e":0.08,"f":-0.08},
      {"yr":2016,"k":"p","s":"Balatonfüred","d":146.9,"v":-0.42,"e":0.08,"f":-0.08},
      {"yr":2016,"k":"p","s":"Balatonfüred","d":150.9,"v":-0.41,"e":0.08,"f":-0.08},
      {"yr":2016,"k":"p","s":"Balatonfüred","d":158,"v":0.02,"e":0.06,"f":-0.06},
      {"yr":2016,"k":"p","s":"Balatonfüred","d":160,"v":-0.24,"e":0.08,"f":-0.08},
      {"yr":2016,"k":"p","s":"Balatonfüred","d":167.1,"v":-0.48,"e":0.08,"f":-0.08},
      {"yr":2016,"k":"p","s":"Balatonfüred","d":172.1,"v":-0.25,"e":0.08,"f":-0.08},
      {"yr":2016,"k":"p","s":"Balatonfüred","d":174.1,"v":-0.21,"e":0.08,"f":-0.08},
      {"yr":2016,"k":"p","s":"Balatonfüred","d":178,"v":-0.7,"e":0.06,"f":-0.06},
      {"yr":2016,"k":"p","s":"Balatonfüred","d":182.1,"v":-0.39,"e":0.06,"f":-0.06},
      {"yr":2016,"k":"p","s":"Szentgál","d":97.7,"v":0.7,"e":0,"f":0},
      {"yr":2016,"k":"p","s":"Szentgál","d":100.7,"v":0.5,"e":0.06,"f":-0.06},
      {"yr":2016,"k":"p","s":"Szentgál","d":103.6,"v":0.78,"e":0.1,"f":-0.1},
      {"yr":2016,"k":"p","s":"Szentgál","d":108.7,"v":1.16,"e":0.12,"f":-0.12},
      {"yr":2016,"k":"p","s":"Szentgál","d":110.7,"v":1.32,"e":0.15,"f":-0.15},
      {"yr":2016,"k":"p","s":"Szentgál","d":116.6,"v":-0.19,"e":0,"f":0},
      {"yr":2016,"k":"p","s":"Szentgál","d":118.8,"v":1.16,"e":0.15,"f":-0.15},
      {"yr":2016,"k":"p","s":"Szentgál","d":125.8,"v":1.52,"e":0.15,"f":-0.15},
      {"yr":2016,"k":"p","s":"Szentgál","d":129.8,"v":1.7,"e":0.12,"f":-0.12},
      {"yr":2016,"k":"p","s":"Szentgál","d":137.8,"v":1.42,"e":0.12,"f":-0.12},
      {"yr":2016,"k":"p","s":"Szentgál","d":144.8,"v":0.93,"e":0.08,"f":-0.08},
      {"yr":2016,"k":"p","s":"Szentgál","d":146.9,"v":1.01,"e":0.08,"f":-0.08},
      {"yr":2016,"k":"p","s":"Szentgál","d":149.8,"v":0.7,"e":0.06,"f":-0.06},
      {"yr":2016,"k":"p","s":"Szentgál","d":157,"v":0.27,"e":0.06,"f":-0.06},
      {"yr":2016,"k":"p","s":"Szentgál","d":165,"v":0.19,"e":0.06,"f":-0.06},
      {"yr":2016,"k":"p","s":"Szentgál","d":169.1,"v":0.37,"e":0.06,"f":-0.06},
      {"yr":2016,"k":"p","s":"Szentgál","d":172,"v":0.68,"e":0.08,"f":-0.08},
      {"yr":2016,"k":"p","s":"Szentgál","d":175,"v":0.19,"e":0.06,"f":-0.06},
      {"yr":2016,"k":"p","s":"Szentgál","d":178,"v":0.27,"e":0.06,"f":-0.06},
      {"yr":2016,"k":"p","s":"Szentgál","d":180.1,"v":0.78,"e":0.06,"f":-0.06},
      {"yr":2016,"k":"p","s":"Vilma-puszta","d":110.7,"v":0.9,"e":0.15,"f":-0.15},
      {"yr":2016,"k":"p","s":"Vilma-puszta","d":114.7,"v":1.05,"e":0.12,"f":-0.12},
      {"yr":2016,"k":"p","s":"Vilma-puszta","d":118.8,"v":1.09,"e":0.12,"f":-0.12},
      {"yr":2016,"k":"p","s":"Vilma-puszta","d":128.8,"v":1.88,"e":0.1,"f":-0.1},
      {"yr":2016,"k":"p","s":"Vilma-puszta","d":137.8,"v":1.8,"e":0.12,"f":-0.12},
      {"yr":2016,"k":"p","s":"Vilma-puszta","d":140.9,"v":1.6,"e":0.1,"f":-0.1},
      {"yr":2016,"k":"p","s":"Vilma-puszta","d":144.8,"v":1.16,"e":0.08,"f":-0.08},
      {"yr":2016,"k":"p","s":"Vilma-puszta","d":146.9,"v":1.01,"e":0.08,"f":-0.08},
      {"yr":2016,"k":"p","s":"Vilma-puszta","d":149.8,"v":0.74,"e":0.08,"f":-0.08},
      {"yr":2016,"k":"p","s":"Vilma-puszta","d":158,"v":0.61,"e":0.1,"f":-0.1},
      {"yr":2016,"k":"p","s":"Vilma-puszta","d":160,"v":0.36,"e":0.1,"f":-0.1},
      {"yr":2016,"k":"p","s":"Vilma-puszta","d":165,"v":0.36,"e":0.1,"f":-0.1},
      {"yr":2016,"k":"p","s":"Vilma-puszta","d":169.1,"v":0.3,"e":0.06,"f":-0.06},
      {"yr":2016,"k":"p","s":"Vilma-puszta","d":172,"v":0.45,"e":0.1,"f":-0.1},
      {"yr":2016,"k":"p","s":"Vilma-puszta","d":174.1,"v":0.3,"e":0.06,"f":-0.06}
    ]
  },
  "facet": {"row": {"field": "yr", "type": "ordinal", "title": "log (caterpillar biomass)",
    "header": {"labels": false, "titleFontSize": 19, "titleFontWeight": "normal", "titleColor": "#111", "titlePadding": 0}}},
  "spacing": 0,
  "spec": {
    "width": 478,
    "height": 259,
    "encoding": {
      "x": {"field": "d", "type": "quantitative", "scale": {"domain": [74.5, 204.5], "nice": false, "zero": false},
        "axis": {"values": [80, 100, 120, 140, 160, 180, 200], "title": "Date of frass collection (days from 1 January)", "titleFontSize": 18, "titleFontWeight": "normal", "titleColor": "#111", "titlePadding": 8}},
      "y": {"field": "v", "type": "quantitative", "scale": {"domain": [-2.97, 2.97], "nice": false},
        "axis": {"values": [-2, -1, 0, 1, 2], "title": null, "labelPadding": 6}}
    },
    "layer": [
      {
        "transform": [{"filter": "datum.k == 'p'"}],
        "mark": {"type": "point", "filled": true, "size": 40, "strokeWidth": 1.3, "opacity": 1},
        "encoding": {
          "color": {"field": "s", "type": "nominal", "title": null,
            "scale": {"domain": ["Veszprém", "Balatonfüred", "Szentgál", "Vilma-puszta"], "range": ["#FF1A1A", "#9D33F0", "#3A98F0", "#1EE61E"]},
            "legend": {"orient": "none", "legendX": 380, "legendY": 8}},
          "shape": {"field": "s", "type": "nominal", "title": null,
            "scale": {"domain": ["Veszprém", "Balatonfüred", "Szentgál", "Vilma-puszta"],
              "range": ["circle", "triangle-up", "M-1.4,0L1.4,0M0,-1.4L0,1.4M-1,-1L1,1M-1,1L1,-1", "square"]},
            "legend": {"orient": "none", "legendX": 380, "legendY": 8}},
          "stroke": {"field": "s", "type": "nominal", "title": null,
            "scale": {"domain": ["Veszprém", "Balatonfüred", "Szentgál", "Vilma-puszta"], "range": ["#FF1A1A", "#9D33F0", "#3A98F0", "#1EE61E"]},
            "legend": {"orient": "none", "legendX": 380, "legendY": 8}}
        }
      },
      {
        "transform": [{"filter": "datum.k == 'b'"}],
        "mark": {"type": "rule", "strokeWidth": 2},
        "encoding": {
          "x2": {"field": "d2"},
          "color": {"field": "s", "type": "nominal", "title": null}
        }
      },
      {
        "transform": [{"filter": "datum.k == 'f'"}],
        "mark": {"type": "line", "strokeWidth": 1.4, "interpolate": "monotone", "opacity": 0.9},
        "encoding": {
          "color": {"field": "s", "type": "nominal", "title": null}
        }
      },
      {
        "transform": [{"filter": "datum.k == 'p' && datum.e > 0"}],
        "mark": {"type": "errorbar", "ticks": {"size": 9, "thickness": 1.5}, "thickness": 1.5},
        "encoding": {
          "yError": {"field": "e"},
          "yError2": {"field": "f"},
          "color": {"field": "s", "type": "nominal", "title": null}
        }
      },
      {
        "transform": [{"filter": "datum.k == 'l'"}],
        "mark": {"type": "text", "align": "left", "baseline": "middle", "fontSize": 18, "color": "#111"},
        "encoding": {"text": {"field": "t"}}
      }
    ]
  },
  "resolve": {"scale": {"color": "shared"}}
}
